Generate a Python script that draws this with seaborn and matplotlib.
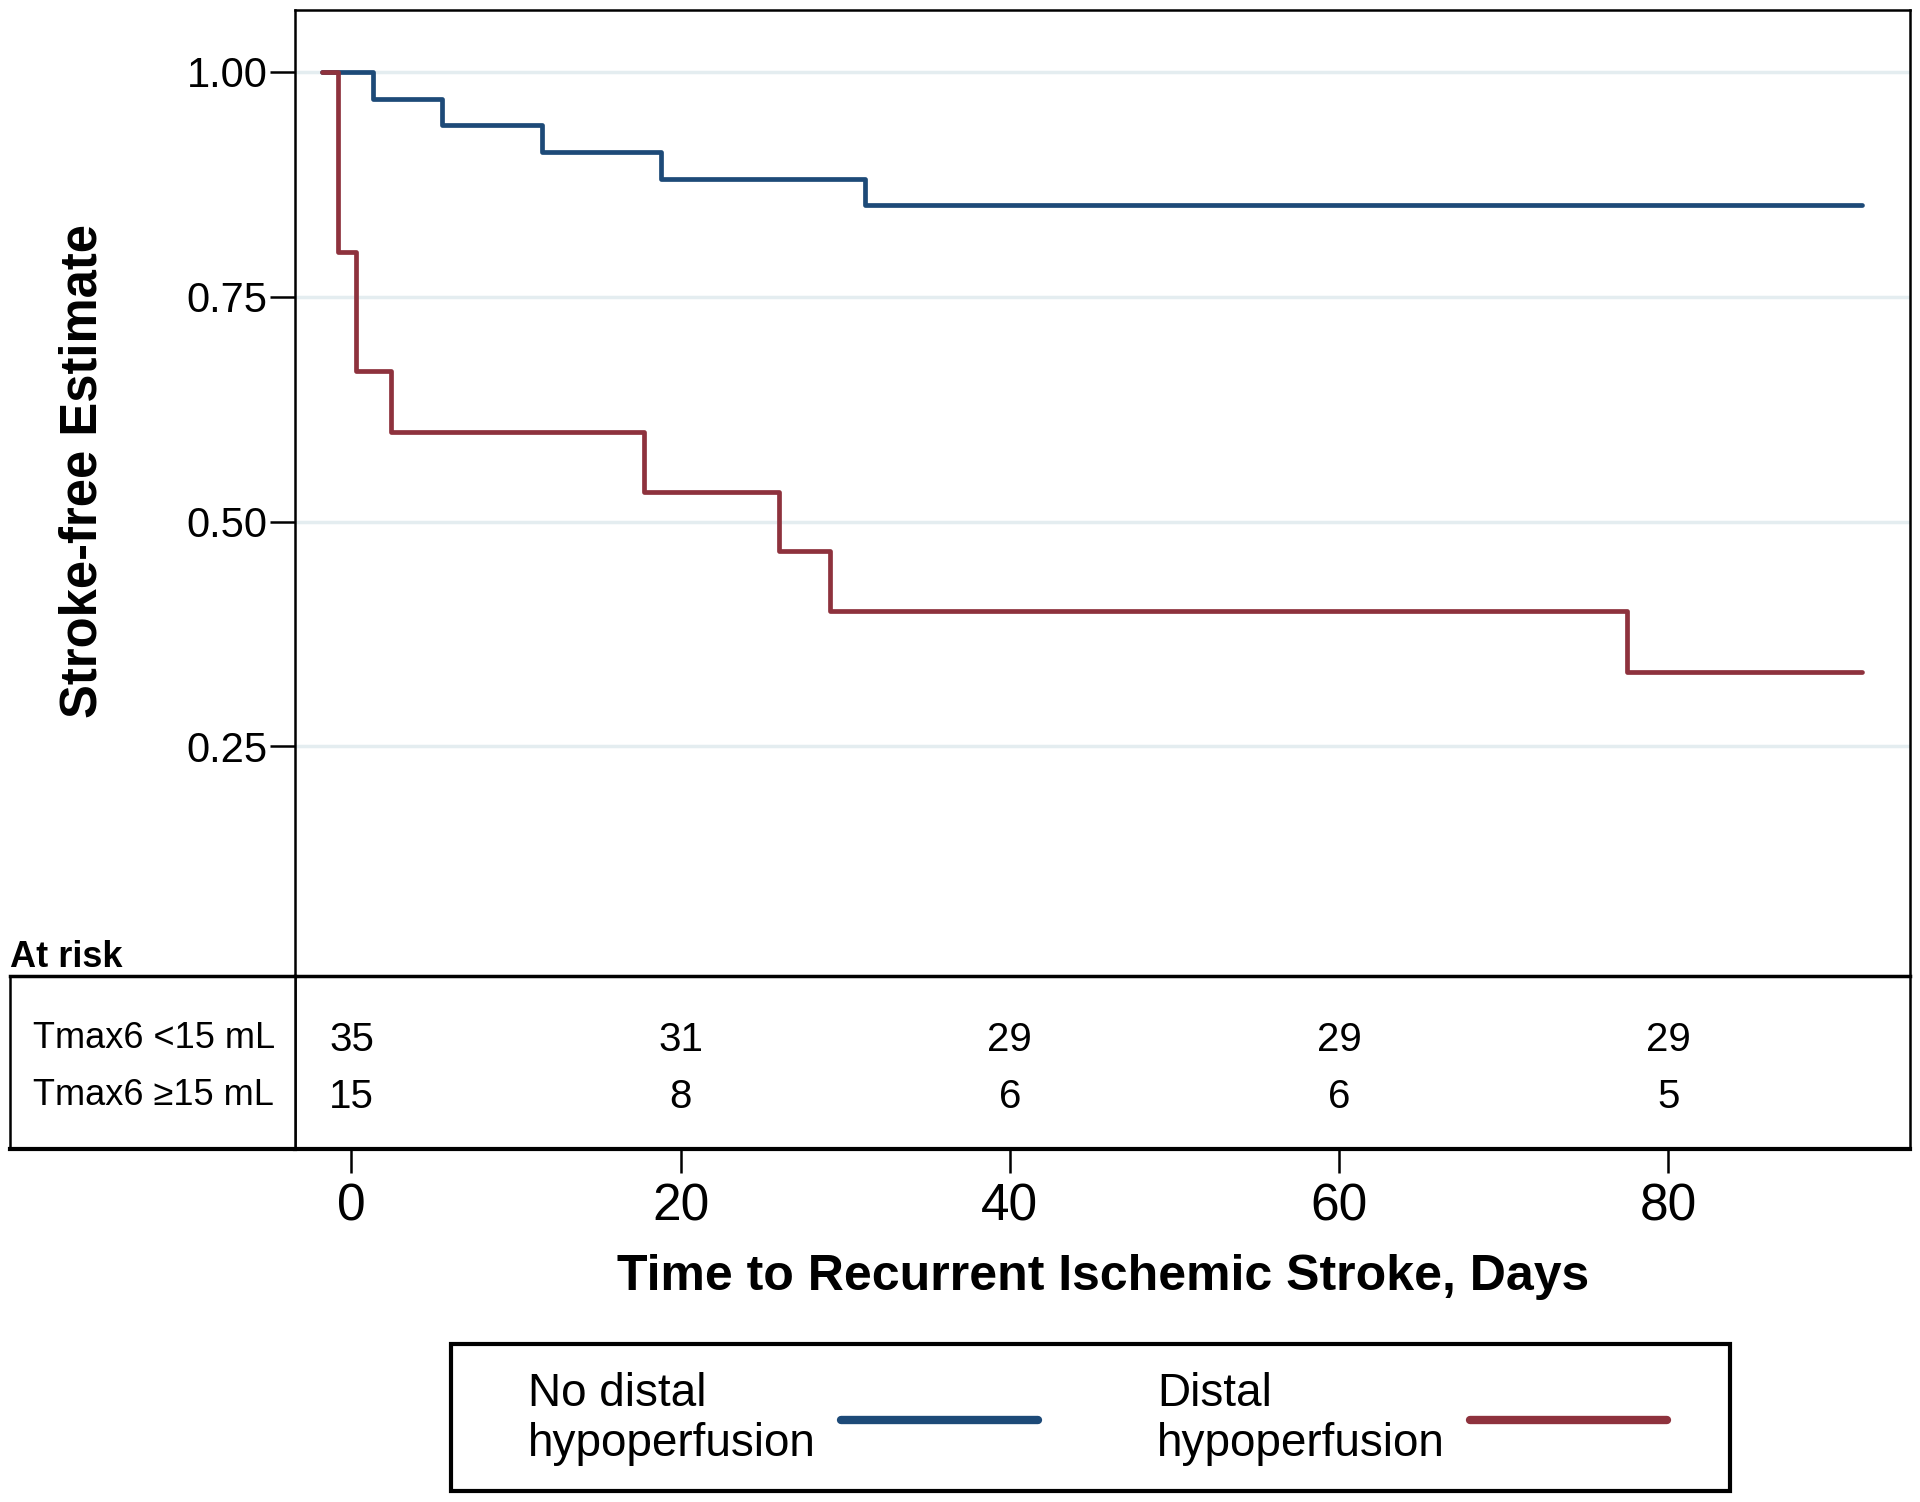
import numpy as np
import pandas as pd
import matplotlib
matplotlib.use("Agg")
import matplotlib.pyplot as plt
from matplotlib.lines import Line2D
from matplotlib.patches import Rectangle
import seaborn as sns

# Kaplan-Meier steps (days, survival)
no_distal_days = [-1.8, 1.3, 5.5, 11.6, 18.8, 31.2, 91.8]
no_distal_surv = [1.0, 0.970, 0.941, 0.911, 0.881, 0.852, 0.852]
distal_days = [-1.8, -0.8, 0.3, 2.4, 17.8, 26.0, 29.1, 77.5, 91.8]
distal_surv = [1.0, 0.8, 0.667, 0.6, 0.533, 0.467, 0.4, 0.333, 0.333]

group_labels = ["No distal\nhypoperfusion", "Distal\nhypoperfusion"]
group_colors = ["#1d4a78", "#8e323d"]

# at-risk table
risk_times = [0, 20, 40, 60, 80]
risk_rows = ["Tmax6 <15 mL", "Tmax6 \u226515 mL"]
risk_small = [35, 31, 29, 29, 29]
risk_large = [15, 8, 6, 6, 5]

y_ticks = [0.25, 0.50, 0.75, 1.00]

df = pd.concat([
    pd.DataFrame({"day": no_distal_days, "surv": no_distal_surv, "group": group_labels[0]}),
    pd.DataFrame({"day": distal_days, "surv": distal_surv, "group": group_labels[1]}),
])

sns.set_theme(style="white")
plt.rcParams["font.family"] = ["Liberation Sans", "DejaVu Sans"]
plt.rcParams["text.color"] = "black"
plt.rcParams["axes.labelcolor"] = "black"
plt.rcParams["xtick.color"] = "black"
plt.rcParams["ytick.color"] = "black"

fig = plt.figure(figsize=(19.2, 15.02), dpi=100)
ax = fig.add_axes([0.1537, 0.3504, 0.8412, 0.6431])
axr = fig.add_axes([0.1537, 0.2347, 0.8412, 0.1157], sharex=ax)
axl = fig.add_axes([0.0051, 0.2347, 0.1486, 0.1157])

sns.lineplot(data=df, x="day", y="surv", hue="group", hue_order=group_labels,
             palette=group_colors, drawstyle="steps-post", estimator=None,
             sort=False, linewidth=3.4, legend=False, ax=ax)

ax.set_xlim(-3.42, 94.7)
ax.set_ylim(-0.005, 1.069)
ax.set_yticks(y_ticks)
ax.set_yticklabels([f"{v:.2f}" for v in y_ticks])
ax.yaxis.grid(True, color="#e4edf0", linewidth=2.5)
ax.set_axisbelow(True)
ax.tick_params(axis="y", which="major", left=True, direction="out", length=18,
               width=1.8, pad=2, labelsize=30, color="black")
ax.tick_params(axis="x", bottom=False, labelbottom=False)
ax.set_xlabel("")
ax.set_ylabel("Stroke-free Estimate", fontsize=36.5, fontweight="bold")
ax.yaxis.set_label_coords(-0.116, 0.523)
for s in ax.spines.values():
    s.set_color("black")
    s.set_linewidth(1.8)

# table, right part
axr.set_ylim(0, 1)
axr.set_yticks([])
for x, a, b in zip(risk_times, risk_small, risk_large):
    axr.text(x, 0.63, str(a), ha="center", va="center", fontsize=29)
    axr.text(x, 0.30, str(b), ha="center", va="center", fontsize=29)
axr.set_xticks(risk_times)
axr.tick_params(axis="x", bottom=True, direction="out", length=17, width=1.8,
                pad=7, labelsize=37, color="black")
axr.set_xlabel("Time to Recurrent Ischemic Stroke, Days", fontsize=36,
               fontweight="bold", labelpad=16)
for s in axr.spines.values():
    s.set_color("black")
    s.set_linewidth(1.8)
axr.spines["bottom"].set_linewidth(3)
axr.spines["top"].set_linewidth(2.5)

# table, left part
axl.set_xlim(0, 1)
axl.set_ylim(0, 1)
axl.set_xticks([])
axl.set_yticks([])
axl.text(0.08, 0.64, risk_rows[0], ha="left", va="center", fontsize=26)
axl.text(0.08, 0.31, risk_rows[1], ha="left", va="center", fontsize=26)
for s in axl.spines.values():
    s.set_color("black")
    s.set_linewidth(1.8)
axl.spines["bottom"].set_linewidth(3)
axl.spines["top"].set_linewidth(2.5)

fig.text(0.0051, 0.3625, "At risk", ha="left", va="center", fontsize=26,
         fontweight="bold")

# legend: frameless entries inside a drawn box
handles = [Line2D([], [], color=c, linewidth=6) for c in group_colors]
leg = fig.legend(handles, group_labels, loc="center", bbox_to_anchor=(0.5715, 0.0552),
                 ncol=2, markerfirst=False, fontsize=33, frameon=False,
                 handlelength=4.3, handletextpad=0.55, columnspacing=2.6,
                 borderpad=0)
for t in leg.get_texts():
    t.set_linespacing(1.2)
fig.patches.append(Rectangle((0.2347, 0.0073), 0.6664, 0.0978, transform=fig.transFigure,
                             fill=False, edgecolor="black", linewidth=3, zorder=5))

fig.savefig("out.png", dpi=100, facecolor="white")
